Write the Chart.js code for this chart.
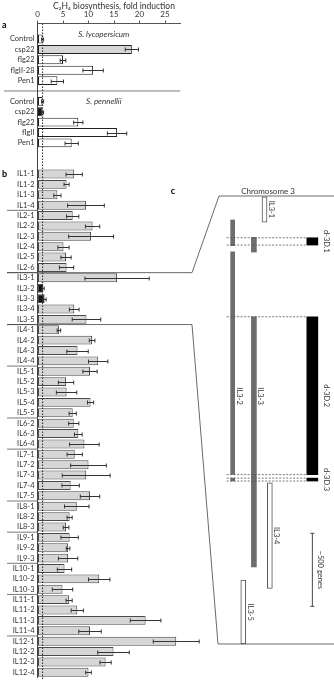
<!DOCTYPE html>
<html>
<head>
<meta charset="utf-8">
<script src="https://cdn.jsdelivr.net/npm/chart.js@4.4.0/dist/chart.umd.min.js"></script>
<style>
html, body { margin: 0; padding: 0; background: #fff; }
#wrap { position: relative; width: 334px; height: 685px; }
#wrap canvas { position: absolute; left: 0; top: 0; }
</style>
</head>
<body>
<div id="wrap">
  <canvas id="bars" width="334" height="685"></canvas>
  <canvas id="chrom" width="334" height="685"></canvas>
</div>
<script>
// panel a: S. lycopersicum and S. pennellii
var lyco_labels = ['Control', 'csp22', 'flg22', 'flgII-28', 'Pen1']
var lyco_means = [1.0, 18.5, 5.0, 10.9, 3.9]
var lyco_errors = [0.2, 1.3, 0.55, 2.0, 1.2]

var penn_labels = ['Control', 'csp22', 'flg22', 'flgII', 'Pen1']
var penn_means = [1.0, 1.0, 8.0, 15.6, 6.7]
var penn_errors = [0.2, 0.2, 0.9, 1.9, 1.3]

// panel b: introgression lines
var il_labels = ['IL1-1','IL1-2','IL1-3','IL1-4','IL2-1','IL2-2','IL2-3','IL2-4','IL2-5','IL2-6',
  'IL3-1','IL3-2','IL3-3','IL3-4','IL3-5','IL4-1','IL4-2','IL4-3','IL4-4',
  'IL5-1','IL5-2','IL5-3','IL5-4','IL5-5','IL6-2','IL6-3','IL6-4',
  'IL7-1','IL7-2','IL7-3','IL7-4','IL7-5','IL8-1','IL8-2','IL8-3','IL9-1','IL9-2','IL9-3',
  'IL10-1','IL10-2','IL10-3','IL11-1','IL11-2','IL11-3','IL11-4','IL12-1','IL12-2','IL12-3','IL12-4']
var il_means = [7.2, 5.7, 3.9, 9.5, 6.9, 10.8, 10.5, 5.1, 5.6, 5.7,
  15.6, 1.1, 1.4, 7.2, 9.6, 4.2, 10.7, 7.85, 11.9,
  10.3, 5.6, 5.7, 10.4, 6.9, 7.1, 8.0, 9.2,
  7.3, 10.0, 9.55, 6.5, 10.3, 7.7, 6.3, 5.6, 6.3, 6.0, 6.0,
  5.3, 12.1, 4.9, 6.2, 7.8, 21.2, 10.3, 27.2, 14.9, 13.35, 10.0]
var il_errors = [1.6, 0.5, 0.7, 3.6, 1.2, 1.4, 4.4, 1.1, 1.0, 1.4,
  6.3, 0.2, 0.3, 0.95, 2.8, 0.35, 0.55, 2.1, 1.9,
  1.4, 1.5, 2.0, 0.6, 0.7, 1.0, 0.75, 2.9,
  1.5, 3.5, 4.7, 1.7, 1.9, 2.4, 0.5, 0.55, 1.7, 0.35, 1.9,
  1.4, 2.1, 2.0, 0.6, 1.2, 3.0, 2.2, 4.5, 3.1, 1.1, 0.55]
var x_ticks = [0, 5, 10, 15, 20, 25]

// panel c: chromosome 3, positions in genes from the top of the map
var chrom_lanes = ['IL3-2', '', 'IL3-5', '', 'IL3-3', '', 'IL3-1', 'IL3-4', '', '', '', '', '', '', '', 'd-3D']
var chrom_length = 3068
var seg_lines = ['IL3-1', 'IL3-2', 'IL3-2', 'IL3-2', 'IL3-3', 'IL3-3', 'IL3-4', 'IL3-5']
var seg_start = [5, 164, 382, 1932, 283, 827, 1964, 2630]
var seg_end = [180, 340, 1906, 1952, 384, 2540, 2688, 3068]
var del_names = ['d-3D.1', 'd-3D.2', 'd-3D.3']
var del_start = [286, 827, 1932]
var del_end = [336, 1908, 1952]
var line_label_genes = {'IL3-1': 92, 'IL3-2': 1370, 'IL3-3': 1370, 'IL3-4': 2326, 'IL3-5': 2850}
var scale_bar_start = 2310, scale_bar_genes = 500

Chart.defaults.font.family = 'Lato, "Open Sans", sans-serif'
Chart.defaults.color = '#333'

var FONT = 'Lato, "Open Sans", sans-serif'
var bars_chart = null, chrom_chart = null

// rows: blank, lycopersicum, blank, pennellii, 2 blanks, ILs
var rows = [''].concat(lyco_labels, [''], penn_labels, ['', ''], il_labels)
var row_means = [null].concat(lyco_means, [null], penn_means, [null, null], il_means)
var row_errors = [null].concat(lyco_errors, [null], penn_errors, [null, null], il_errors)
var row_group = [null].concat(lyco_labels.map(_ => 'lyco'), [null], penn_labels.map(_ => 'penn'), [null, null], il_labels.map(_ => 'il'))
var lyco_row0 = 1, penn_row0 = 1 + lyco_labels.length + 1, il_row0 = penn_row0 + penn_labels.length + 2

function chromOf(label) {
  return label.split('-')[0]
}

function barFill(i) {
  let g = row_group[i], l = rows[i]
  if (g == 'lyco') return l == 'csp22' ? '#d6d6d6' : '#ffffff'
  if (g == 'penn') return l == 'csp22' ? '#111111' : '#ffffff'
  if (l == 'IL3-2' || l == 'IL3-3') return '#111111'
  return '#d6d6d6'
}

function barBorder(i) {
  return row_group[i] == 'il' ? '#4a4a4a' : '#222222'
}

function rowBoundary(chart, idx) {
  // pixel between row idx-1 and row idx
  let y = chart.scales.y
  return (y.getPixelForValue(idx - 1) + y.getPixelForValue(idx)) / 2
}

var barsDecor = {
  id: 'barsDecor',
  afterDatasetsDraw(chart) {
    let ctx = chart.ctx, xs = chart.scales.x, ys = chart.scales.y, area = chart.chartArea
    ctx.save()

    // dotted line at fold induction = 1
    let x1 = xs.getPixelForValue(1)
    ctx.strokeStyle = '#222'
    ctx.lineWidth = 1
    ctx.setLineDash([1.5, 1.5])
    ctx.beginPath()
    ctx.moveTo(x1, area.top)
    ctx.lineTo(x1, area.bottom + 2)
    ctx.stroke()
    ctx.setLineDash([])

    // error bars
    ctx.strokeStyle = '#333'
    ctx.lineWidth = 1
    row_means.forEach((m, i) => {
      if (m == null) return
      let y = Math.round(ys.getPixelForValue(i)) + 0.5
      let a = xs.getPixelForValue(m - row_errors[i]), b = xs.getPixelForValue(m + row_errors[i])
      ctx.beginPath()
      ctx.moveTo(a, y); ctx.lineTo(b, y)
      ctx.moveTo(a, y - 2); ctx.lineTo(a, y + 2)
      ctx.moveTo(b, y - 2); ctx.lineTo(b, y + 2)
      ctx.stroke()
    })

    // separator between the two species
    ctx.strokeStyle = '#555'
    ctx.lineWidth = 0.8
    let ysep = ys.getPixelForValue(penn_row0 - 1)
    ctx.beginPath()
    ctx.moveTo(4, ysep); ctx.lineTo(area.right, ysep)
    ctx.stroke()

    // short separators between chromosomes
    for (let k = 1; k < il_labels.length; k++) {
      if (chromOf(il_labels[k]) == chromOf(il_labels[k - 1])) continue
      let yb = rowBoundary(chart, il_row0 + k)
      ctx.beginPath()
      ctx.moveTo(7, yb); ctx.lineTo(area.left, yb)
      ctx.stroke()
    }

    // texts
    ctx.fillStyle = '#333'
    ctx.textAlign = 'center'
    ctx.textBaseline = 'middle'
    ctx.font = 'italic 8px ' + FONT
    ctx.fillText('S. lycopersicum', xs.getPixelForValue(13), ys.getPixelForValue(lyco_row0) - 5)
    ctx.fillText('S. pennellii', xs.getPixelForValue(13), ys.getPixelForValue(penn_row0))
    ctx.font = '8.5px ' + FONT
    ctx.fillText('C\u2082H\u2084 biosynthesis, fold induction', xs.getPixelForValue(15), 6)
    ctx.font = 'bold 9px ' + FONT
    ctx.textAlign = 'left'
    ctx.fillStyle = '#000'
    ctx.fillText('a', 2, 25)
    ctx.fillText('b', 2, ys.getPixelForValue(il_row0))
    ctx.restore()
  }
}

function buildBarsChart(container_id) {
  return new Chart(document.getElementById(container_id).getContext('2d'), {
    type: 'bar',
    data: {
      labels: rows,
      datasets: [{
        data: row_means,
        backgroundColor: rows.map((_, i) => barFill(i)),
        borderColor: rows.map((_, i) => barBorder(i)),
        borderWidth: 1,
        borderSkipped: false,
        barPercentage: 0.86,
        categoryPercentage: 1,
        clip: false
      }]
    },
    options: {
      responsive: false,
      animation: false,
      indexAxis: 'y',
      layout: { padding: { left: 0, right: 153.7, top: 0, bottom: 2.5 } },
      plugins: { legend: { display: false }, tooltip: { enabled: false } },
      scales: {
        x: {
          type: 'linear',
          position: 'top',
          min: 0,
          max: 28,
          afterFit: s => { s.height = 23.5 },
          afterBuildTicks: s => { s.ticks = x_ticks.map(v => ({ value: v })) },
          ticks: { font: { size: 8 }, color: '#333', padding: 1 },
          grid: { drawOnChartArea: false, tickLength: 3, color: '#555' },
          border: { color: '#555', width: 1 }
        },
        y: {
          afterFit: s => { s.width = 37.5 },
          ticks: { autoSkip: false, font: { size: 7.5 }, color: '#333', padding: 3 },
          grid: { display: false, drawTicks: false },
          border: { color: '#444', width: 1 }
        }
      }
    },
    plugins: [barsDecor]
  })
}

function laneX(chart, name) {
  return chart.scales.x.getPixelForValue(chrom_lanes.indexOf(name))
}

function vText(ctx, text, x, y) {
  ctx.save()
  ctx.translate(x, y)
  ctx.rotate(Math.PI / 2)
  ctx.fillText(text, 0, 0)
  ctx.restore()
}

var chromDecor = {
  id: 'chromDecor',
  afterDatasetsDraw(chart) {
    let ctx = chart.ctx, ys = chart.scales.y
    let top = ys.getPixelForValue(0), bottom = ys.getPixelForValue(chrom_length)
    ctx.save()

    // zoom lines from the IL3 block of panel b
    let first = il_row0 + il_labels.findIndex(l => chromOf(l) == 'IL3')
    let count = il_labels.filter(l => chromOf(l) == 'IL3').length
    let y_up = rowBoundary(bars_chart, first), y_dn = rowBoundary(bars_chart, first + count)
    ctx.strokeStyle = '#444'
    ctx.lineWidth = 0.8
    ctx.beginPath()
    ctx.moveTo(7, y_up); ctx.lineTo(192, y_up); ctx.lineTo(219, top); ctx.lineTo(334, top)
    ctx.moveTo(7, y_dn); ctx.lineTo(192, y_dn); ctx.lineTo(218, bottom); ctx.lineTo(334, bottom)
    ctx.stroke()

    // dashed lines marking the deletions
    let left = laneX(chart, 'IL3-2') - 6, dx = laneX(chart, 'd-3D') - 5
    ctx.strokeStyle = '#555'
    ctx.setLineDash([2, 1.5])
    del_names.forEach((_, i) => {
      [del_start[i], del_end[i]].forEach(g => {
        let y = ys.getPixelForValue(g)
        ctx.beginPath()
        ctx.moveTo(left, y); ctx.lineTo(dx, y)
        ctx.stroke()
      })
    })
    ctx.setLineDash([])

    // scale bar
    let sx = laneX(chart, 'd-3D')
    let s0 = ys.getPixelForValue(scale_bar_start), s1 = ys.getPixelForValue(scale_bar_start + scale_bar_genes)
    ctx.strokeStyle = '#444'
    ctx.lineWidth = 1
    ctx.beginPath()
    ctx.moveTo(sx, s0); ctx.lineTo(sx, s1)
    ctx.moveTo(sx - 2, s0); ctx.lineTo(sx + 2, s0)
    ctx.moveTo(sx - 2, s1); ctx.lineTo(sx + 2, s1)
    ctx.stroke()

    // labels
    ctx.fillStyle = '#333'
    ctx.textAlign = 'center'
    ctx.textBaseline = 'middle'
    ctx.font = '7.5px ' + FONT
    Object.keys(line_label_genes).forEach(name => {
      vText(ctx, name, laneX(chart, name) + 7, ys.getPixelForValue(line_label_genes[name]))
    })
    del_names.forEach((name, i) => {
      vText(ctx, name, sx + 14.5, ys.getPixelForValue((del_start[i] + del_end[i]) / 2))
    })
    vText(ctx, '~' + scale_bar_genes + ' genes', sx + 8, (s0 + s1) / 2)
    ctx.font = '8px ' + FONT
    ctx.fillText('Chromosome 3', laneX(chart, 'IL3-1') + 3.5, top - 5)
    ctx.font = 'bold 9px ' + FONT
    ctx.fillStyle = '#000'
    ctx.fillText('c', 173, top - 5)
    ctx.restore()
  }
}

function buildChromChart(container_id) {
  let datasets = seg_lines.map((line, i) => {
    let dark = line == 'IL3-2' || line == 'IL3-3'
    return {
      data: chrom_lanes.map(l => l == line ? [seg_start[i], seg_end[i]] : null),
      backgroundColor: dark ? '#6d6d6d' : '#ffffff',
      borderColor: dark ? '#6d6d6d' : '#555555',
      borderWidth: dark ? 0 : 1,
      borderSkipped: false,
      barThickness: line == 'IL3-2' ? 4 : 5,
      grouped: false,
      clip: false
    }
  })
  del_names.forEach((_, i) => {
    datasets.push({
      data: chrom_lanes.map(l => l == 'd-3D' ? [del_start[i], del_end[i]] : null),
      backgroundColor: '#000000',
      borderWidth: 0,
      barThickness: 11,
      grouped: false,
      clip: false
    })
  })
  return new Chart(document.getElementById(container_id).getContext('2d'), {
    type: 'bar',
    data: { labels: chrom_lanes, datasets: datasets },
    options: {
      responsive: false,
      animation: false,
      layout: { padding: { left: 230, right: 19, top: 196, bottom: 41 } },
      plugins: { legend: { display: false }, tooltip: { enabled: false } },
      scales: {
        x: { type: 'category', display: false, offset: true },
        y: { type: 'linear', display: false, min: 0, max: chrom_length, reverse: true }
      }
    },
    plugins: [chromDecor]
  })
}

bars_chart = buildBarsChart('bars')
chrom_chart = buildChromChart('chrom')
</script>
</body>
</html>
